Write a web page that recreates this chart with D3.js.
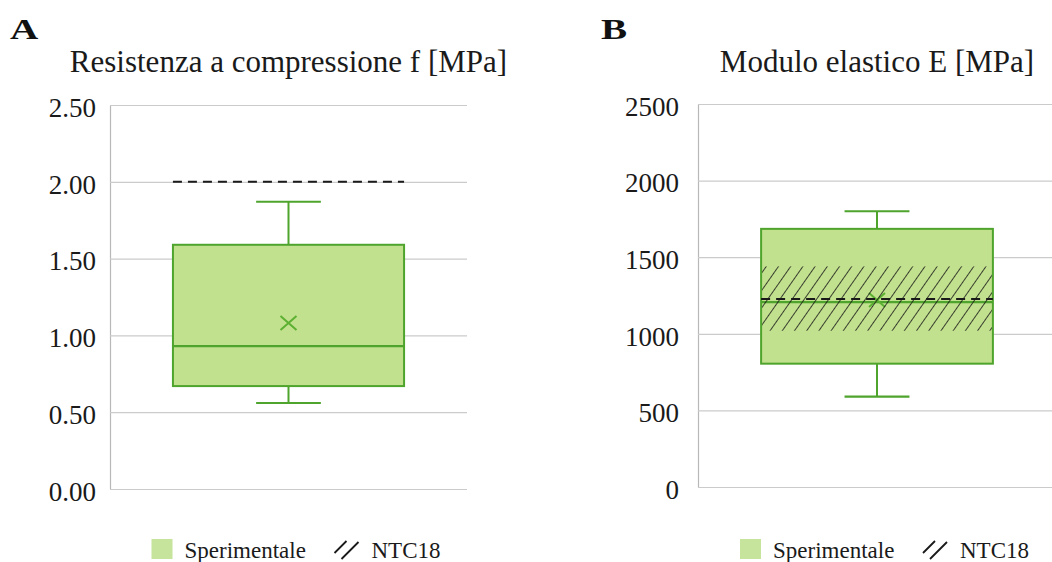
<!DOCTYPE html>
<html lang="en">
<head>
	<meta charset="utf-8">
	<title>Sperimentale vs NTC18</title>
	<script src="https://d3js.org/d3.v7.min.js" charset="utf-8"></script>
	<style>
		body {
			margin: 0;
			background: #ffffff;
		}
		svg text {
			font-family: "Liberation Serif", "DejaVu Serif", serif;
		}
	</style>
</head>
<body>
	<div id="chart"></div>
	<script>
	// Chart data (one entry per panel)
	var panelLetters = ["A", "B"];
	var panelTitles = ["Resistenza a compressione f [MPa]", "Modulo elastico E [MPa]"];
	var category = ["Sperimentale"];
	var whiskerLow = [0.56, 590];
	var quartile1 = [0.67, 805];
	var medians = [0.93, 1207];
	var quartile3 = [1.59, 1685];
	var whiskerHigh = [1.87, 1800];
	var means = [1.08, 1220];
	// NTC18 reference: lower / central / upper value
	var ntcLow = [2.00, 1020];
	var ntcMid = [2.00, 1227];
	var ntcHigh = [2.00, 1440];
	var yMax = [2.5, 2500];
	var yTicks = [[0, 0.5, 1, 1.5, 2, 2.5], [0, 500, 1000, 1500, 2000, 2500]];
	var tickFormats = [d3.format(".2f"), d3.format("d")];
	var legendLabels = ["Sperimentale", "NTC18"];

	var width = 1052;
	var height = 562;
	var serif = "'Liberation Serif', 'DejaVu Serif', serif";

	var boxFill = "#c2e18e";
	var boxStroke = "#4ea42c";
	var meanColor = "#5cb032";

	// plot areas of the two panels
	var frames = [
		{ left: 110, right: 467, top: 105, bottom: 489, labelGap: 14 },
		{ left: 698, right: 1056, top: 104, bottom: 487, labelGap: 19 }
	];

	var svg = d3.select("#chart")
		.append("svg")
		.attr("width", width)
		.attr("height", height)
		.style("font-family", serif);

	// hatch pattern for NTC18
	var defs = svg.append("defs");
	defs.append("pattern")
		.attr("id", "hatch")
		.attr("patternUnits", "userSpaceOnUse")
		.attr("width", 10)
		.attr("height", 10)
		.attr("patternTransform", "rotate(35)")
		.append("line")
		.attr("x1", 0).attr("y1", 0)
		.attr("x2", 0).attr("y2", 10)
		.attr("stroke", "#151515")
		.attr("stroke-width", 1.6);

	panelLetters.forEach(function(letter, i) {
		var f = frames[i];
		var g = svg.append("g");

		var y = d3.scaleLinear()
			.domain([0, yMax[i]])
			.range([f.bottom, f.top]);

		var x = d3.scaleBand()
			.domain(category)
			.range([f.left, f.right])
			.padding(0.214);

		var cx = x("Sperimentale") + x.bandwidth() / 2;
		var bw = x.bandwidth();
		var capHalf = bw * 0.14;
		var midX = (f.left + f.right) / 2;

		// gridlines + tick labels
		var axis = d3.axisLeft(y)
			.tickValues(yTicks[i])
			.tickFormat(tickFormats[i])
			.tickSize(-(f.right - f.left))
			.tickSizeOuter(0)
			.tickPadding(f.labelGap);

		var ax = g.append("g")
			.attr("transform", "translate(" + f.left + ",0)")
			.call(axis)
			.attr("font-family", null);
		ax.select(".domain").attr("stroke", "#b8b8b8").attr("stroke-width", 1.2);
		ax.selectAll(".tick line").attr("stroke", "#cbcbcb").attr("stroke-width", 1.2);
		ax.selectAll(".tick text")
			.attr("fill", "#1a1a1a")
			.attr("font-size", "27px")
			.attr("dy", "0.42em");

		// panel letter and title
		g.append("text")
			.attr("transform", "translate(" + (i == 0 ? 10 : 601) + ",39) scale(1.35,1)")
			.attr("font-size", "29px")
			.attr("font-weight", "bold")
			.attr("fill", "#111")
			.text(letter);

		g.append("text")
			.attr("x", midX)
			.attr("y", 72)
			.attr("text-anchor", "middle")
			.attr("font-size", "31px")
			.attr("fill", "#1a1a1a")
			.text(panelTitles[i]);

		// whiskers
		g.append("line")
			.attr("x1", cx).attr("x2", cx)
			.attr("y1", y(quartile3[i])).attr("y2", y(whiskerHigh[i]))
			.attr("stroke", boxStroke).attr("stroke-width", 2);
		g.append("line")
			.attr("x1", cx).attr("x2", cx)
			.attr("y1", y(quartile1[i])).attr("y2", y(whiskerLow[i]))
			.attr("stroke", boxStroke).attr("stroke-width", 2);
		[whiskerHigh[i], whiskerLow[i]].forEach(function(v) {
			g.append("line")
				.attr("x1", cx - capHalf).attr("x2", cx + capHalf)
				.attr("y1", y(v)).attr("y2", y(v))
				.attr("stroke", boxStroke).attr("stroke-width", 2.2);
		});

		// box
		g.append("rect")
			.attr("x", x("Sperimentale"))
			.attr("y", y(quartile3[i]))
			.attr("width", bw)
			.attr("height", y(quartile1[i]) - y(quartile3[i]))
			.attr("fill", boxFill)
			.attr("stroke", boxStroke)
			.attr("stroke-width", 2);

		// median
		g.append("line")
			.attr("x1", x("Sperimentale")).attr("x2", x("Sperimentale") + bw)
			.attr("y1", y(medians[i])).attr("y2", y(medians[i]))
			.attr("stroke", boxStroke).attr("stroke-width", 2.2);

		// mean marker (x)
		var my = y(means[i]);
		g.append("path")
			.attr("d", "M" + (cx - 8) + "," + (my - 7) + "L" + (cx + 8) + "," + (my + 7) +
				"M" + (cx - 8) + "," + (my + 7) + "L" + (cx + 8) + "," + (my - 7))
			.attr("stroke", meanColor)
			.attr("stroke-width", 2)
			.attr("fill", "none");

		// NTC18 hatched band
		if (ntcHigh[i] > ntcLow[i]) {
			g.append("rect")
				.attr("x", x("Sperimentale") + 1)
				.attr("y", y(ntcHigh[i]))
				.attr("width", bw - 2)
				.attr("height", y(ntcLow[i]) - y(ntcHigh[i]))
				.attr("fill", "url(#hatch)");
		}
		// NTC18 dashed reference line
		g.append("line")
			.attr("x1", x("Sperimentale")).attr("x2", x("Sperimentale") + bw)
			.attr("y1", y(ntcMid[i])).attr("y2", y(ntcMid[i]))
			.attr("stroke", "#1a1a1a")
			.attr("stroke-width", 2)
			.attr("stroke-dasharray", "9,6");

		// legend
		var lx = midX - 137;
		g.append("rect")
			.attr("x", lx).attr("y", 539)
			.attr("width", 21).attr("height", 20)
			.attr("fill", "#c6e49c");
		g.append("text")
			.attr("x", lx + 33).attr("y", 558)
			.attr("font-size", "23px")
			.attr("fill", "#1a1a1a")
			.text(legendLabels[0]);
		g.append("path")
			.attr("d", "M" + (lx + 183) + "," + 553 + "L" + (lx + 195) + "," + 541 +
				"M" + (lx + 190) + "," + 559 + "L" + (lx + 207) + "," + 542)
			.attr("stroke", "#1a1a1a")
			.attr("stroke-width", 1.8)
			.attr("fill", "none");
		g.append("text")
			.attr("x", lx + 220).attr("y", 558)
			.attr("font-size", "23px")
			.attr("fill", "#1a1a1a")
			.text(legendLabels[1]);
	});
	</script>
</body>
</html>
